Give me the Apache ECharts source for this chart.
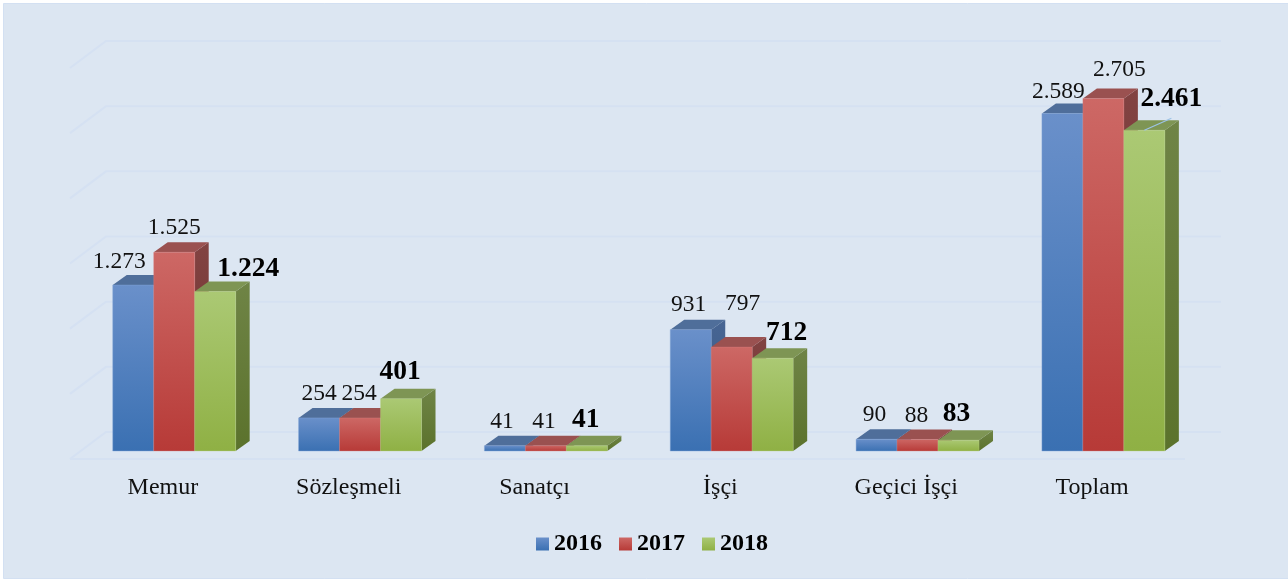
<!DOCTYPE html>
<html>
<head>
<meta charset="utf-8">
<style>html,body{margin:0;padding:0;background:#fff}#c{width:1288px;height:581px}</style>
<script src="https://cdn.jsdelivr.net/npm/echarts@6/dist/echarts.min.js"></script>
</head>
<body>
<div id="c"></div>
<script>
const categories = ['Memur', 'Sözleşmeli', 'Sanatçı', 'İşçi', 'Geçici İşçi', 'Toplam'];
const years = ['2016', '2017', '2018'];
const values2016 = [1273, 254, 41, 931, 90, 2589];
const values2017 = [1525, 254, 41, 797, 88, 2705];
const values2018 = [1224, 401, 41, 712, 83, 2461];
const gridTicks = [0, 500, 1000, 1500, 2000, 2500, 3000];

// label nudges relative to the bar's front-top centre (manually placed labels in the original)
const labelNudge2016 = [[-14, -23], [0, -24], [-3, -24], [-2, -25], [-2, -24], [-4, -22]];
const labelNudge2017 = [[0, -24], [-1, -24], [-2, -24], [11, -43], [-1, -24], [16, -29]];
const labelNudge2018 = [[33, -23], [-1, -27], [-1, -26], [14, -25], [-2, -26], [27, -31]];

const FLOOR_DX = 36, FLOOR_DY = -27;
const BAR_OFFSET_DX = 11.3, BAR_OFFSET_DY = -8;
const BAR_DEPTH_DX = 14, BAR_DEPTH_DY = -10;
const BAR_BAND_FRAC = 0.2205;

const palettes = [
  { front: ['#6A90CA', '#3A70B2'], top: '#4F6E9A', side: ['#476593', '#375782'], edge: 'rgba(130,165,215,0.55)' },
  { front: ['#CD6865', '#B73A37'], top: '#9A5150', side: ['#824342', '#6E2D2B'], edge: 'rgba(215,130,128,0.45)' },
  { front: ['#ABC974', '#8FB044'], top: '#7E9554', side: ['#6F8446', '#5B722C'], edge: 'rgba(185,210,133,0.45)' }
];

function grad(stops) {
  return { type: 'linear', x: 0, y: 0, x2: 0, y2: 1, colorStops: [{ offset: 0, color: stops[0] }, { offset: 1, color: stops[1] }] };
}
function fmt(v) { return String(v).replace(/\B(?=(\d{3})+$)/g, '.'); }

function barSeries(name, values, nudges, pal, s) {
  return {
    name, type: 'custom', z: 3,
    itemStyle: { color: grad(pal.front) },
    data: values.map((v, i) => [i, v]),
    encode: { x: 0, y: 1 },
    renderItem(params, api) {
      const i = api.value(0), v = api.value(1);
      const band = api.size([1, 0])[0];
      const w = band * BAR_BAND_FRAC;
      const ddx = BAR_DEPTH_DX, ddy = BAR_DEPTH_DY;
      const base = api.coord([i, 0]), top = api.coord([i, v]);
      const x0 = base[0] + BAR_OFFSET_DX + (s - 1.5) * w, x1 = x0 + w;
      const yb = base[1] + BAR_OFFSET_DY, yt = top[1] + BAR_OFFSET_DY;
      const children = [
        { type: 'polygon', z2: 1, shape: { points: [[x1, yt], [x1 + ddx, yt + ddy], [x1 + ddx, yb + ddy], [x1, yb]] }, style: { fill: grad(pal.side) } },
        { type: 'polygon', z2: 2, shape: { points: [[x0, yt], [x1, yt], [x1 + ddx, yt + ddy], [x0 + ddx, yt + ddy]] }, style: { fill: pal.top } },
        { type: 'rect', z2: 3, shape: { x: x0, y: yt, width: w, height: yb - yt }, style: { fill: grad(pal.front), stroke: pal.edge, lineWidth: 0.8 } }
      ];
      const n = nudges[i];
      const cx = x0 + w / 2;
      const bold = s === 2;
      if (s === 2 && i === categories.length - 1) {
        children.push({ type: 'line', z2: 50, shape: { x1: cx, y1: yt, x2: cx + n[0], y2: yt + n[1] + 19 }, style: { stroke: '#9DC3E6', lineWidth: 1.2 } });
      }
      children.push({
        type: 'text', z2: 100,
        style: {
          x: cx + n[0], y: yt + n[1], text: fmt(v), align: 'center', verticalAlign: 'middle',
          font: (bold ? 'bold 27.5px' : '23.5px') + ' "Liberation Serif"', fill: bold ? '#000' : '#111'
        }
      });
      return { type: 'group', children };
    }
  };
}

const gridSeries = {
  type: 'custom', z: 1, silent: true,
  data: gridTicks.map(v => [0, v]),
  encode: { x: 0, y: 1 },
  renderItem(params, api) {
    const v = api.value(1);
    const band = api.size([1, 0])[0];
    const l = api.coord([0, v]), r = api.coord([categories.length - 1, v]);
    const xl = l[0] - band / 2, xr = r[0] + band / 2, y = l[1];
    const stroke = '#D5E1F2';
    const children = [{ type: 'polyline', shape: { points: [[xl, y], [xl + FLOOR_DX, y + FLOOR_DY], [xr + FLOOR_DX, y + FLOOR_DY]] }, style: { fill: 'none', stroke, lineWidth: 2 } }];
    if (v === 0) children.push({ type: 'line', shape: { x1: xl, y1: y, x2: xr, y2: y }, style: { stroke, lineWidth: 2 } });
    return { type: 'group', children };
  }
};

const chart = echarts.init(document.getElementById('c'), null, { renderer: 'canvas' });
chart.setOption({
  animation: false,
  backgroundColor: '#ffffff',
  graphic: [{ type: 'rect', z: -1, shape: { x: 3.5, y: 3.5, width: 1290, height: 575 }, style: { fill: '#DCE6F2', stroke: '#D3E0F2', lineWidth: 1 } }],
  grid: { left: 70, right: 103, top: 68, bottom: 122 },
  xAxis: {
    type: 'category', data: categories,
    axisLine: { show: false }, axisTick: { show: false }, splitLine: { show: false },
    axisLabel: { margin: 17, interval: 0, fontFamily: 'Liberation Serif', fontSize: 24, color: '#111' }
  },
  yAxis: { type: 'value', min: 0, max: 3000, interval: 500, show: false },
  legend: {
    data: years, left: 536, top: 532, padding: 0, itemWidth: 13, itemHeight: 13, itemGap: 17, icon: 'rect',
    selectedMode: false,
    textStyle: { fontFamily: 'Liberation Serif', fontSize: 24, fontWeight: 'bold', color: '#000' }
  },
  series: [
    gridSeries,
    barSeries(years[0], values2016, labelNudge2016, palettes[0], 0),
    barSeries(years[1], values2017, labelNudge2017, palettes[1], 1),
    barSeries(years[2], values2018, labelNudge2018, palettes[2], 2)
  ]
});
</script>
</body>
</html>
